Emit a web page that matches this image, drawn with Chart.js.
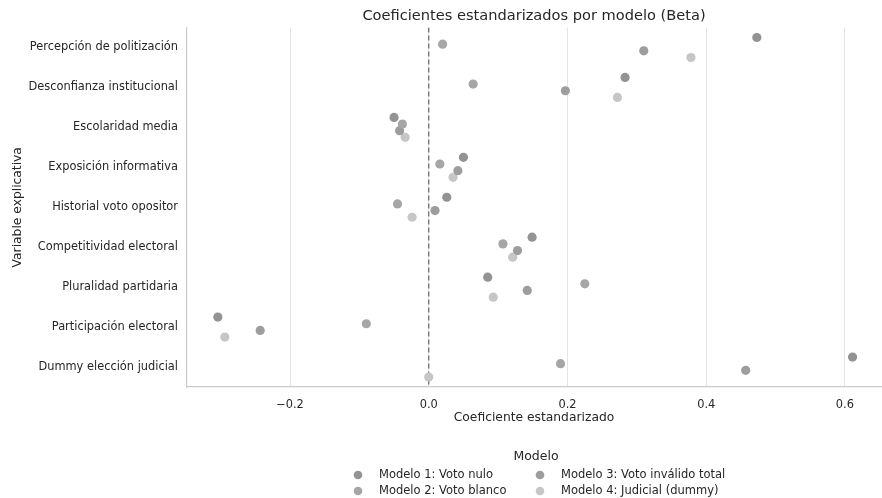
<!DOCTYPE html>
<html>
<head>
<meta charset="utf-8">
<script src="https://cdn.jsdelivr.net/npm/chart.js@4.4.0/dist/chart.umd.min.js"></script>
<style>
  html, body { margin: 0; padding: 0; background: #fff; }
  #wrap { width: 882px; height: 498px; }
</style>
</head>
<body>
<div id="wrap"><canvas id="chart"></canvas></div>
<script>
// Data
const variables = [
  "Percepción de politización",
  "Desconfianza institucional",
  "Escolaridad media",
  "Exposición informativa",
  "Historial voto opositor",
  "Competitividad electoral",
  "Pluralidad partidaria",
  "Participación electoral",
  "Dummy elección judicial",
];
const modelNames = [
  "Modelo 1: Voto nulo",
  "Modelo 2: Voto blanco",
  "Modelo 3: Voto inválido total",
  "Modelo 4: Judicial (dummy)",
];
const model1 = [0.473, 0.283, -0.050, 0.050, 0.026, 0.149, 0.085, -0.304, 0.611];
const model2 = [0.020, 0.064, -0.038, 0.016, -0.045, 0.107, 0.225, -0.090, 0.190];
const model3 = [0.310, 0.197, -0.042, 0.042, 0.009, 0.128, 0.142, -0.243, 0.457];
const model4 = [0.378, 0.272, -0.034, 0.035, -0.024, 0.121, 0.093, -0.294, 0.000];
const xTicks = [-0.2, 0.0, 0.2, 0.4, 0.6];

const modelValues = [model1, model2, model3, model4];
const modelColors = ["#939393", "#a6a6a6", "#9d9d9d", "#c6c6c6"];
const dodge = [-0.25, -0.0833, 0.0833, 0.25];
const textColor = "#262626";
const FONT = "'DejaVu Sans', sans-serif";

const datasets = modelValues.map((vals, m) => ({
  label: modelNames[m],
  data: vals.map((v, i) => ({ x: v, y: i + dodge[m] })),
  backgroundColor: modelColors[m],
  borderColor: modelColors[m],
  borderWidth: 0,
  pointRadius: 4.6,
  pointHoverRadius: 4.6,
  order: 0,
}));

// reference line at zero
datasets.push({
  label: "cero",
  data: [{ x: 0, y: -0.5 }, { x: 0, y: variables.length - 0.5 }],
  showLine: true,
  borderColor: "#6e6e6e",
  borderWidth: 1.3,
  borderDash: [5, 3],
  pointRadius: 0,
  order: 10,
});

// legend drawn under the axis, two columns like the original
const legendPlugin = {
  id: "modelLegend",
  afterDraw(chart) {
    const ctx = chart.ctx;
    const cx = (chart.chartArea.left + chart.chartArea.right) / 2;
    ctx.save();
    ctx.fillStyle = textColor;
    ctx.textBaseline = "middle";
    ctx.textAlign = "center";
    ctx.font = "12.5px " + FONT;
    ctx.fillText("Modelo", cx + 2, 457);
    ctx.textAlign = "left";
    ctx.font = "11.5px " + FONT;
    const cols = [358, 540];
    const rows = [475, 491];
    modelNames.forEach((name, m) => {
      const col = Math.floor(m / 2), row = m % 2;
      ctx.fillStyle = modelColors[m];
      ctx.beginPath();
      ctx.arc(cols[col], rows[row], 4.3, 0, Math.PI * 2);
      ctx.fill();
      ctx.fillStyle = textColor;
      ctx.fillText(name, cols[col] + 21, rows[row]);
    });
    ctx.restore();
  },
};

new Chart(document.getElementById("chart"), {
  type: "scatter",
  data: { datasets },
  plugins: [legendPlugin],
  options: {
    responsive: true,
    maintainAspectRatio: false,
    animation: false,
    layout: { autoPadding: false, padding: { top: 0, right: 1, bottom: 73, left: 10 } },
    plugins: {
      legend: { display: false },
      tooltip: { enabled: false },
      title: {
        display: true,
        text: "Coeficientes estandarizados por modelo (Beta)",
        fullSize: false,
        color: textColor,
        font: { family: FONT, size: 14.6, weight: "normal" },
        padding: { top: 7, bottom: 3 },
      },
    },
    scales: {
      x: {
        type: "linear",
        min: -0.3485,
        max: 0.652,
        afterBuildTicks(scale) {
          scale.ticks = xTicks.map(v => ({ value: v }));
        },
        afterFit(scale) {
          scale.height = 38;
          scale.paddingLeft = 0;
          scale.paddingRight = 0;
        },
        grid: { color: "#e3e3e3", lineWidth: 1, drawTicks: false },
        border: { color: "#cccccc", width: 1.2 },
        ticks: {
          color: textColor,
          padding: 11,
          font: { family: FONT, size: 11.4 },
          callback: v => (v < 0 ? "\u2212" : "") + Math.abs(v).toFixed(1),
        },
        title: {
          display: true,
          text: "Coeficiente estandarizado",
          color: textColor,
          font: { family: FONT, size: 12.3 },
          padding: { top: 2, bottom: 0 },
        },
      },
      y: {
        type: "linear",
        reverse: true,
        min: -0.5,
        max: variables.length - 0.5,
        afterBuildTicks(scale) {
          scale.ticks = variables.map((_, i) => ({ value: i }));
        },
        afterFit(scale) { scale.width = 177; },
        grid: { display: false, drawTicks: false },
        border: { color: "#cccccc", width: 1.2 },
        ticks: {
          color: textColor,
          padding: 9,
          font: { family: FONT, size: 11.4 },
          callback: v => variables[v],
        },
        title: {
          display: true,
          text: "Variable explicativa",
          color: textColor,
          font: { family: FONT, size: 12.3 },
          padding: { top: 0, bottom: 0 },
        },
      },
    },
  },
});
</script>
</body>
</html>
